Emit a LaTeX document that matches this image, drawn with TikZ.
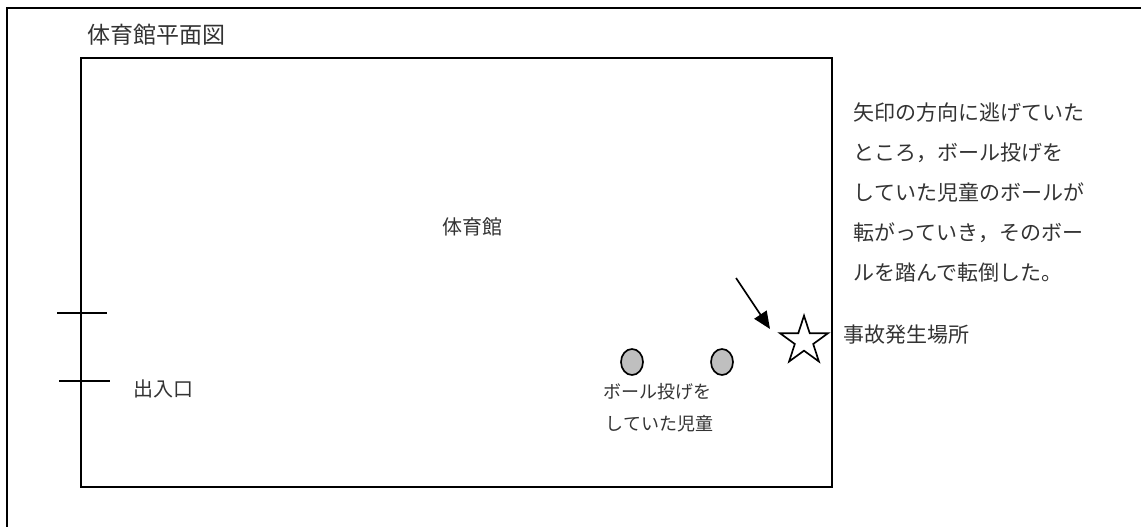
\documentclass[tikz,border=0pt]{standalone}
\usepackage{fontspec}
\setmainfont{Noto Sans CJK JP}
\usetikzlibrary{shapes.geometric,arrows.meta}

\begin{document}
\begin{tikzpicture}[x=0.75pt,y=-0.75pt,line width=1.25pt]
	\tikzstyle{every node}=[inner sep=0pt,text=black!80]
	\tikzstyle{title}=[font=\fontsize{17.25pt}{20pt}\selectfont]
	\tikzstyle{label}=[font=\fontsize{15pt}{18pt}\selectfont]
	\tikzstyle{note}=[font=\fontsize{15.75pt}{18pt}\selectfont]
	\tikzstyle{small}=[font=\fontsize{13.5pt}{16pt}\selectfont]
	\tikzstyle{ball}=[draw,ellipse,fill=black!25,minimum width=16.5pt,minimum height=19.5pt]
	\useasboundingbox (0,0) rectangle (1141,527);
	% frame and gym
	\draw (7,527) -- (7,8) -- (1141,8);
	\draw (81,58) rectangle (832,487);
	% doors
	\coordinate (door1a) at (57,313);
	\coordinate (door1b) at (107,313);
	\coordinate (door2a) at (59,381);
	\coordinate (door2b) at (110,381);
	\draw (door1a) -- (door1b);
	\draw (door2a) -- (door2b);
	% balls, star
	\node[ball] (ball1) at (632,362) {};
	\node[ball] (ball2) at (722,362) {};
	\node[draw,star,star points=5,star point ratio=2.618,minimum size=38pt,fill=white] (accident) at (804,341) {};
	\coordinate (run) at (736,278);
	\coordinate (runend) at (770,329);
	\draw[-{Triangle[length=13pt,width=11pt]}] (run) -- (runend);
	% texts
	\node[title,anchor=west] (plan) at (87,35) {体育館平面図};
	\node[label] (gym) at (472,227) {体育館};
	\node[label,anchor=west] (door) at (133,389) {出入口};
	\node[small,anchor=west] (child1) at (603,392) {ボール投げを};
	\node[small,anchor=west] (child2) at (605,424) {していた児童};
	\node[note,anchor=west] (place) at (843,335) {事故発生場所};
	\node[note,anchor=west] (note1) at (853,113) {矢印の方向に逃げていた};
	\node[note,anchor=west] (note2) at (853,153) {ところ，ボール投げを};
	\node[note,anchor=west] (note3) at (853,193) {していた児童のボールが};
	\node[note,anchor=west] (note4) at (853,233) {転がっていき，そのボー};
	\node[note,anchor=west] (note5) at (853,273) {ルを踏んで転倒した。};
\end{tikzpicture}
\end{document}
